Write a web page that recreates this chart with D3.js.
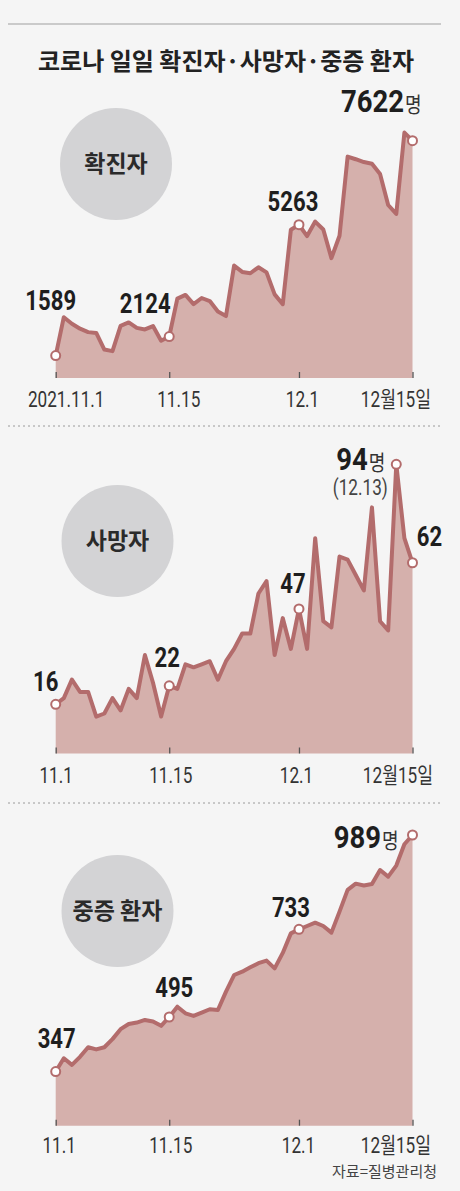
<!DOCTYPE html>
<html>
<head>
<meta charset="utf-8">
<script src="https://cdn.jsdelivr.net/npm/d3@7"></script>
<style>
  body { margin: 0; background: #f5f5f5; }
  svg { display: block; }
</style>
</head>
<body>
<svg id="chart" width="460" height="1191"></svg>
<script>
// ============================
// DATA (2021.11.1 ~ 12.15)
// ============================
var dates = d3.timeDay.range(new Date(2021, 10, 1), new Date(2021, 11, 16));

var confirmed = [1589, 2667, 2482, 2344, 2248, 2224, 1758, 1715, 2425, 2520, 2368, 2324, 2419, 2006, 2124,
  3187, 3292, 3034, 3206, 3120, 2827, 2699, 4116, 3938, 3901, 4068, 3925, 3308, 3032, 5123,
  5263, 4944, 5352, 5128, 4325, 4954, 7175, 7102, 7022, 6977, 6689, 5817, 5567, 7850, 7622];

var deaths = [16, 18, 24, 20, 20, 12, 13, 18, 14, 21, 18, 32, 23, 12, 22,
  21, 29, 28, 29, 30, 24, 30, 34, 39, 39, 52, 56, 32, 44, 34,
  47, 34, 70, 43, 41, 64, 63, 58, 53, 80, 43, 40, 94, 70, 62];

var critical = [347, 383, 365, 387, 413, 407, 413, 435, 462, 476, 480, 487, 483, 471, 495,
  523, 505, 498, 507, 516, 514, 564, 609, 618, 630, 641, 648, 627, 669, 722,
  733, 742, 751, 742, 724, 781, 840, 857, 852, 856, 894, 876, 906, 964, 989];

var tickIdx = [0, 14, 30, 44];
var tickLabels1 = ["2021.11.1", "11.15", "12.1", "12월15일"];
var tickLabels = ["11.1", "11.15", "12.1", "12월15일"];

var panelNames = ["확진자", "사망자", "중증 환자"];
var title = "코로나 일일 확진자·사망자·중증 환자";
var source = "자료=질병관리청";

// ============================
// STYLE
// ============================
var LINE = "#b36c6c";
var AREA = "#d5b0ac";
var NUM_FONT = "Roboto, 'Noto Sans CJK KR', sans-serif";
var KR_FONT = "'Noto Sans CJK KR', sans-serif";
var AX_SCALE = 0.78;   // squeeze numbers to look condensed

var svg = d3.select("#chart");

var x = d3.scaleLinear().domain([0, dates.length - 1]).range([55.7, 412.5]);

// top rule + title
svg.append("line")
  .attr("x1", 8).attr("x2", 441).attr("y1", 24).attr("y2", 24)
  .attr("stroke", "#a0a0a0").attr("stroke-width", 1.2);

svg.append("text")
  .attr("x", 226).attr("y", 70)
  .attr("text-anchor", "middle")
  .attr("font-family", KR_FONT).attr("font-weight", 700)
  .attr("font-size", 24).attr("fill", "#222")
  .text(title);

// dotted separators
[426, 803].forEach(function (yy) {
  svg.append("line")
    .attr("x1", 8).attr("x2", 441).attr("y1", yy).attr("y2", yy)
    .attr("stroke", "#9a9a9a").attr("stroke-width", 1)
    .attr("stroke-dasharray", "2,3");
});

// ############################
// # one panel
// ############################
function drawPanel(cfg) {
  var y = d3.scaleLinear().domain(cfg.domain).range([cfg.base, cfg.top]);
  var g = svg.append("g");

  // badge
  g.append("circle")
    .attr("cx", cfg.badge[0]).attr("cy", cfg.badge[1]).attr("r", 56)
    .attr("fill", "#d3d3d5");
  g.append("text")
    .attr("x", cfg.badge[0]).attr("y", cfg.badge[1] + 8)
    .attr("text-anchor", "middle")
    .attr("font-family", KR_FONT).attr("font-weight", 700)
    .attr("font-size", 23).attr("fill", "#2a2a2a")
    .text(cfg.name);

  var area = d3.area()
    .x(function (d, i) { return x(i); })
    .y0(cfg.base)
    .y1(function (d) { return y(d); });

  var line = d3.line()
    .x(function (d, i) { return x(i); })
    .y(function (d) { return y(d); });

  g.append("path").datum(cfg.values)
    .attr("d", area).attr("fill", AREA);

  // axis (ticks drawn upward inside the area)
  var axis = d3.axisBottom(x)
    .tickValues(tickIdx)
    .tickSize(-6)
    .tickFormat(function (d, i) { return cfg.labels[i]; });

  var ax = g.append("g")
    .attr("transform", "translate(0," + cfg.base + ")")
    .call(axis);
  ax.select(".domain").remove();
  ax.selectAll(".tick line").attr("stroke", "#555").attr("stroke-width", 1.3);
  ax.selectAll(".tick text")
    .attr("font-family", NUM_FONT).attr("font-size", 22)
    .attr("fill", "#333")
    .attr("y", cfg.labelY).attr("dy", 0)
    .attr("transform", function (d, i) {
      return "translate(" + cfg.labelDx[i] + ",0) scale(" + AX_SCALE + ",1)";
    })
    .attr("text-anchor", function (d, i) { return i === 3 ? "end" : "middle"; });

  g.append("path").datum(cfg.values)
    .attr("d", line)
    .attr("fill", "none").attr("stroke", LINE)
    .attr("stroke-width", 4).attr("stroke-linejoin", "round");

  // marked points
  g.selectAll("circle.pt")
    .data(cfg.marks)
    .enter().append("circle")
    .attr("class", "pt")
    .attr("cx", function (d) { return x(d.i); })
    .attr("cy", function (d) { return y(cfg.values[d.i]); })
    .attr("r", 4.5)
    .attr("fill", "#fff").attr("stroke", LINE).attr("stroke-width", 2);

  // value labels
  cfg.marks.forEach(function (m) {
    var lg = g.append("g")
      .attr("transform", "translate(" + (x(m.i) + m.dx) + "," + (y(cfg.values[m.i]) + m.dy) + ")");
    var t = lg.append("text")
      .attr("transform", "scale(" + (m.big ? 0.86 : 0.82) + ",1)")
      .attr("text-anchor", m.anchor || "middle")
      .attr("font-family", NUM_FONT).attr("font-weight", 700)
      .attr("font-size", m.big ? 32 : 27)
      .attr("fill", "#1e1e1e");
    t.append("tspan").text(cfg.values[m.i]);
    if (m.big) {
      t.append("tspan")
        .attr("font-family", KR_FONT).attr("font-weight", 400)
        .attr("font-size", 21).attr("fill", "#333")
        .attr("dx", 1)
        .text("명");
    }
    if (m.sub) {
      lg.append("text")
        .attr("transform", "translate(" + m.subDx + ",25) scale(" + AX_SCALE + ",1)")
        .attr("text-anchor", "middle")
        .attr("font-family", NUM_FONT).attr("font-size", 22)
        .attr("fill", "#444")
        .text(m.sub);
    }
  });
}

drawPanel({
  name: panelNames[0], values: confirmed, labels: tickLabels1,
  domain: [960, 7622], base: 378, top: 140.7,
  badge: [116, 164], labelY: 29, labelDx: [10, 9, 3, 18],
  marks: [
    { i: 0, dx: -5, dy: -46 },
    { i: 14, dx: -24, dy: -24 },
    { i: 30, dx: -6, dy: -14 },
    { i: 44, dx: 9, dy: -29, big: true, anchor: "end" }
  ]
});

drawPanel({
  name: panelNames[1], values: deaths, labels: tickLabels,
  domain: [0, 94], base: 753.5, top: 464.3,
  badge: [117.5, 541], labelY: 29.5, labelDx: [0, 1, -3, 20],
  marks: [
    { i: 0, dx: -10, dy: -13 },
    { i: 14, dx: -2, dy: -19 },
    { i: 30, dx: -6, dy: -16 },
    { i: 42, dx: -11, dy: 6, big: true, anchor: "end", sub: "(12.13)", subDx: -25 },
    { i: 44, dx: 17, dy: -17 }
  ]
});

drawPanel({
  name: panelNames[2], values: critical, labels: tickLabels,
  domain: [200, 989], base: 1125.7, top: 835,
  badge: [117.5, 911], labelY: 27.5, labelDx: [3, 1, -1, 18],
  marks: [
    { i: 0, dx: 1, dy: -24 },
    { i: 14, dx: 5, dy: -20 },
    { i: 30, dx: -8, dy: -12 },
    { i: 44, dx: -14, dy: 13, big: true, anchor: "end" }
  ]
});

svg.append("text")
  .attr("x", 437).attr("y", 1177)
  .attr("text-anchor", "end")
  .attr("font-family", KR_FONT).attr("font-size", 15)
  .attr("fill", "#444")
  .text(source);
</script>
</body>
</html>
